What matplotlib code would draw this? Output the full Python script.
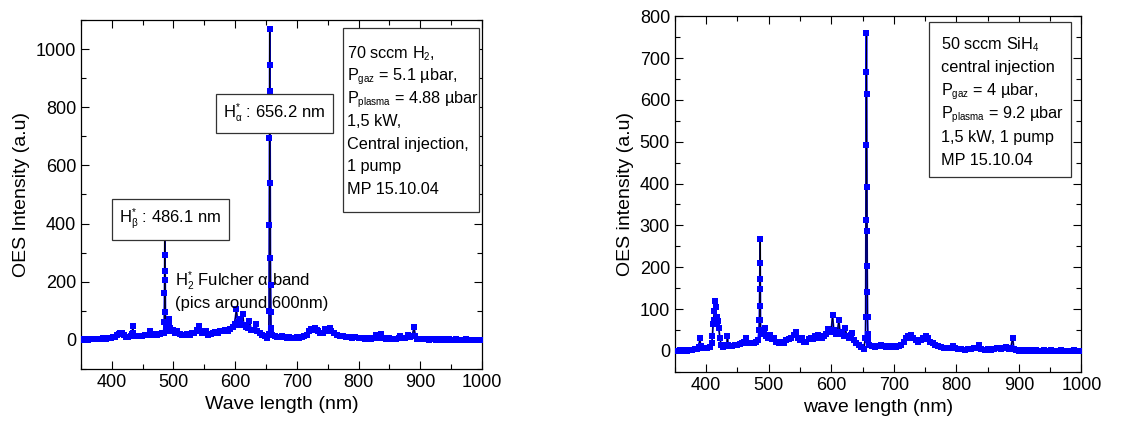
import numpy as np
import matplotlib
import matplotlib.pyplot as plt
from matplotlib.patches import Rectangle
from matplotlib.ticker import MultipleLocator

plt.rcParams['font.family'] = ['Liberation Sans', 'DejaVu Sans']
plt.rcParams['mathtext.fontset'] = 'custom'
plt.rcParams['mathtext.rm'] = 'Liberation Sans'
plt.rcParams['mathtext.it'] = 'Liberation Sans'
plt.rcParams['mathtext.default'] = 'regular'
# smaller sub/superscripts, closer to the original figure
matplotlib._mathtext.SHRINK_FACTOR = 0.6

# 70 sccm H2 spectrum (left)
wl_h2 = [350, 354, 358, 362, 366, 370, 374, 378, 382, 386, 390, 394, 398, 402, 405, 408, 411, 414, 417, 420,
         423, 427, 431, 433, 434, 435, 437, 441, 445, 449, 453, 457, 460, 462, 463, 466, 470, 474, 478, 482,
         484, 485, 485.4, 485.7, 486, 486.3, 486.6, 486.9, 487.3, 488, 490, 492, 493, 494, 497, 500, 503, 506,
         510, 514, 518, 522, 526, 530, 534, 538, 541, 543, 546, 550, 553, 556, 560, 564, 568, 572, 576, 580,
         584, 588, 592, 596, 599, 602, 604, 606, 608, 610, 612, 614, 617, 620, 623, 626, 630, 633, 636, 640,
         644, 648, 652, 654.5, 655, 655.3, 655.6, 655.9, 656.2, 656.5, 656.8, 657.1, 657.4, 657.7, 658, 658.5,
         660, 664, 668, 672, 676, 680, 684, 688, 692, 696, 700, 704, 708, 712, 716, 720, 723, 726, 729, 732,
         735, 738, 742, 746, 749, 753, 756, 760, 765, 770, 775, 780, 785, 790, 795, 800, 805, 810, 815, 820,
         825, 828, 831, 836, 840, 845, 850, 855, 860, 865, 868, 872, 876, 880, 884, 887, 890, 892, 895, 898,
         902, 906, 910, 914, 918, 922, 926, 930, 934, 938, 942, 946, 950, 954, 958, 962, 966, 970, 974, 978,
         982, 986, 990, 994, 998, 1000]
int_h2 = [2, 1, 2, 1, 3, 2, 3, 4, 3, 5, 4, 6, 7, 8, 10, 15, 20, 24, 22, 18,
          10, 10, 12, 20, 48, 22, 12, 12, 14, 13, 16, 15, 18, 30, 18, 16, 20, 18, 20, 22,
          25, 60, 160, 237, 360, 290, 205, 97, 45, 30, 40, 55, 70, 40, 30, 35, 25, 30,
          20, 18, 15, 20, 18, 25, 22, 35, 48, 30, 25, 22, 30, 15, 20, 22, 28, 25, 32, 30,
          35, 30, 38, 45, 55, 105, 60, 50, 70, 55, 90, 50, 45, 40, 65, 35, 35, 55, 30, 25,
          18, 12, 6, 20, 100, 395, 693, 946, 1069, 855, 540, 280, 190, 95, 40, 25,
          15, 12, 10, 8, 12, 8, 6, 8, 5, 6, 8, 6, 8, 12, 18, 30, 38, 35, 42, 35,
          30, 25, 22, 38, 30, 40, 30, 22, 18, 14, 12, 10, 8, 6, 8, 6, 5, 4, 5, 3,
          6, 15, 5, 20, 6, 4, 5, 3, 4, 6, 12, 5, 6, 15, 8, 12, 45, 12, 3, 4,
          2, 3, 2, 1, 3, 2, 1, 2, 1, 2, 0, 2, 1, 0, 2, 1, 0, 1, 2, 0,
          1, 0, 1, 0, 1, 0]

# 50 sccm SiH4 spectrum (right)
wl_sih4 = [350, 354, 358, 362, 366, 370, 374, 378, 382, 385, 388, 390, 391, 394, 398, 402, 406, 409, 410, 411,
           412, 413, 414, 415, 416, 417, 418, 419, 420, 422, 424, 427, 430, 433, 434, 435, 438, 442, 446, 450,
           454, 458, 461, 463, 465, 468, 472, 476, 480, 483, 484.5, 485, 485.3, 485.6, 485.9, 486.2, 486.5, 486.8,
           487.2, 488, 490, 492, 494, 496, 499, 502, 505, 508, 512, 516, 520, 524, 528, 532, 536, 540, 543, 546,
           550, 553, 556, 560, 564, 568, 571, 574, 578, 581, 585, 589, 592, 595, 598, 600, 602, 604, 607, 610,
           612, 614, 617, 620, 622, 625, 628, 631, 633, 636, 640, 644, 648, 652, 654.5, 655, 655.3, 655.6, 655.9,
           656.2, 656.5, 656.8, 657.1, 657.4, 657.7, 658, 658.4, 659, 661, 665, 670, 675, 680, 684, 688, 692, 696,
           700, 704, 708, 712, 716, 719, 722, 725, 728, 731, 735, 739, 743, 746, 749, 752, 755, 758, 762, 766,
           770, 775, 780, 785, 790, 794, 798, 803, 808, 813, 818, 823, 828, 832, 836, 840, 845, 850, 855, 860,
           865, 868, 872, 876, 880, 884, 887, 890, 892, 896, 900, 904, 908, 912, 916, 920, 924, 928, 932, 936,
           940, 944, 948, 952, 956, 960, 964, 968, 972, 976, 980, 984, 988, 992, 996, 1000]
int_sih4 = [1, 0, 2, 1, 2, 1, 3, 2, 4, 5, 10, 30, 12, 6, 8, 7, 9, 20, 35, 65,
            75, 95, 120, 105, 75, 80, 70, 72, 55, 30, 15, 10, 12, 15, 35, 15, 12, 12, 14, 15,
            16, 18, 22, 30, 18, 20, 18, 20, 22, 25, 50, 75, 108, 149, 209, 268, 173, 75,
            48, 40, 45, 40, 55, 35, 30, 38, 28, 30, 22, 20, 22, 20, 25, 28, 30, 38, 45, 30,
            25, 32, 22, 22, 28, 32, 28, 35, 38, 32, 30, 35, 40, 52, 45, 50, 85, 50, 40, 45,
            75, 45, 40, 35, 55, 35, 30, 38, 42, 25, 20, 15, 10, 5, 30, 80, 314, 493, 667,
            760, 613, 391, 287, 204, 140, 80, 40, 25, 15, 12, 10, 12, 14, 12, 10, 12, 10,
            12, 10, 12, 15, 22, 30, 35, 32, 38, 30, 25, 22, 25, 32, 28, 35, 30, 22, 18, 15,
            12, 10, 8, 7, 6, 12, 6, 5, 4, 3, 4, 5, 7, 6, 15, 5, 3, 4, 3, 4,
            6, 8, 4, 6, 9, 5, 8, 30, 5, 2, 1, 3, 1, 2, 0, 2, 1, 3, 1, 0,
            2, 1, 0, 2, 1, 0, 1, 2, 0, 1, 0, 1, 2, 0, 1, 1]

info_h2 = ['70 sccm H$_{2}$,', 'P$_{gaz}$ = 5.1 µbar,', 'P$_{plasma}$ = 4.88 µbar', '1,5 kW,',
           'Central injection,', '1 pump', 'MP 15.10.04']
info_sih4 = ['50 sccm SiH$_{4}$', 'central injection', 'P$_{gaz}$ = 4 µbar,', 'P$_{plasma}$ = 9.2 µbar',
             '1,5 kW, 1 pump', 'MP 15.10.04']


def draw_spectrum(ax, x, y):
    # blue band + thin black trace + blue sample markers
    ax.plot(x, y, '-', color='blue', lw=1.3, zorder=2)
    ax.plot(x, y, '-', color='black', lw=0.6, zorder=3)
    ax.plot(x, y, 's', color='blue', ms=4.0, mew=0, zorder=4)


def style_axes(ax, ymaj, ymin):
    ax.set_xlim(350, 1000)
    ax.xaxis.set_major_locator(MultipleLocator(100))
    ax.xaxis.set_minor_locator(MultipleLocator(50))
    ax.yaxis.set_major_locator(MultipleLocator(ymaj))
    ax.yaxis.set_minor_locator(MultipleLocator(ymin))
    ax.tick_params(which='both', direction='in', top=True, right=True, labelsize=13)
    ax.tick_params(which='major', length=6, width=0.8)
    ax.tick_params(which='minor', length=3.5, width=0.8)
    for sp in ax.spines.values():
        sp.set_linewidth(0.9)


def info_box(ax, x0, y0, x1, y1, tx, ty0, dy, lines):
    ax.add_patch(Rectangle((x0, y0), x1 - x0, y1 - y0, transform=ax.transAxes,
                           facecolor='white', edgecolor='#333333', lw=0.9, zorder=5))
    for i, s in enumerate(lines):
        ax.text(tx, ty0 - i * dy, s, transform=ax.transAxes, fontsize=11.7,
                ha='left', va='baseline', zorder=6)


fig = plt.figure(figsize=(11.42, 4.25), dpi=100)

box = dict(boxstyle='square,pad=0.45', facecolor='white', edgecolor='#333333', lw=0.9)

# left panel
ax1 = fig.add_axes([0.0709, 0.132, 0.3511, 0.821])
draw_spectrum(ax1, wl_h2, int_h2)
ax1.set_ylim(-100, 1100)
style_axes(ax1, 200, 100)
ax1.set_xlabel('Wave length (nm)', fontsize=14)
ax1.set_ylabel('OES Intensity (a.u)', fontsize=14)
ax1.text(0.355, 0.732, r'H$_{\alpha}^{*}$ : 656.2 nm', transform=ax1.transAxes, fontsize=12,
         ha='left', va='center', bbox=box, zorder=6)
ax1.text(0.096, 0.428, r'H$_{\beta}^{*}$ : 486.1 nm', transform=ax1.transAxes, fontsize=12,
         ha='left', va='center', bbox=box, zorder=6)
ax1.text(0.234, 0.226, 'H$_{2}^{*}$ Fulcher $\\alpha$ band\n(pics around 600nm)',
         transform=ax1.transAxes, fontsize=12, ha='left', va='center', linespacing=1.3, zorder=6)
info_box(ax1, 0.653, 0.450, 0.993, 0.977, 0.663, (369 - 58) / 349, 22.7 / 349, info_h2)

# right panel
ax2 = fig.add_axes([0.591, 0.125, 0.356, 0.837])
draw_spectrum(ax2, wl_sih4, int_sih4)
ax2.set_ylim(-50, 800)
style_axes(ax2, 100, 50)
ax2.set_xlabel('wave length (nm)', fontsize=14)
ax2.set_ylabel('OES intensity (a.u)', fontsize=14)
info_box(ax2, 0.624, 0.548, 0.975, 0.983, 0.654, (372 - 49) / 356, 23.2 / 356, info_sih4)

fig.savefig('out.png', dpi=100)
